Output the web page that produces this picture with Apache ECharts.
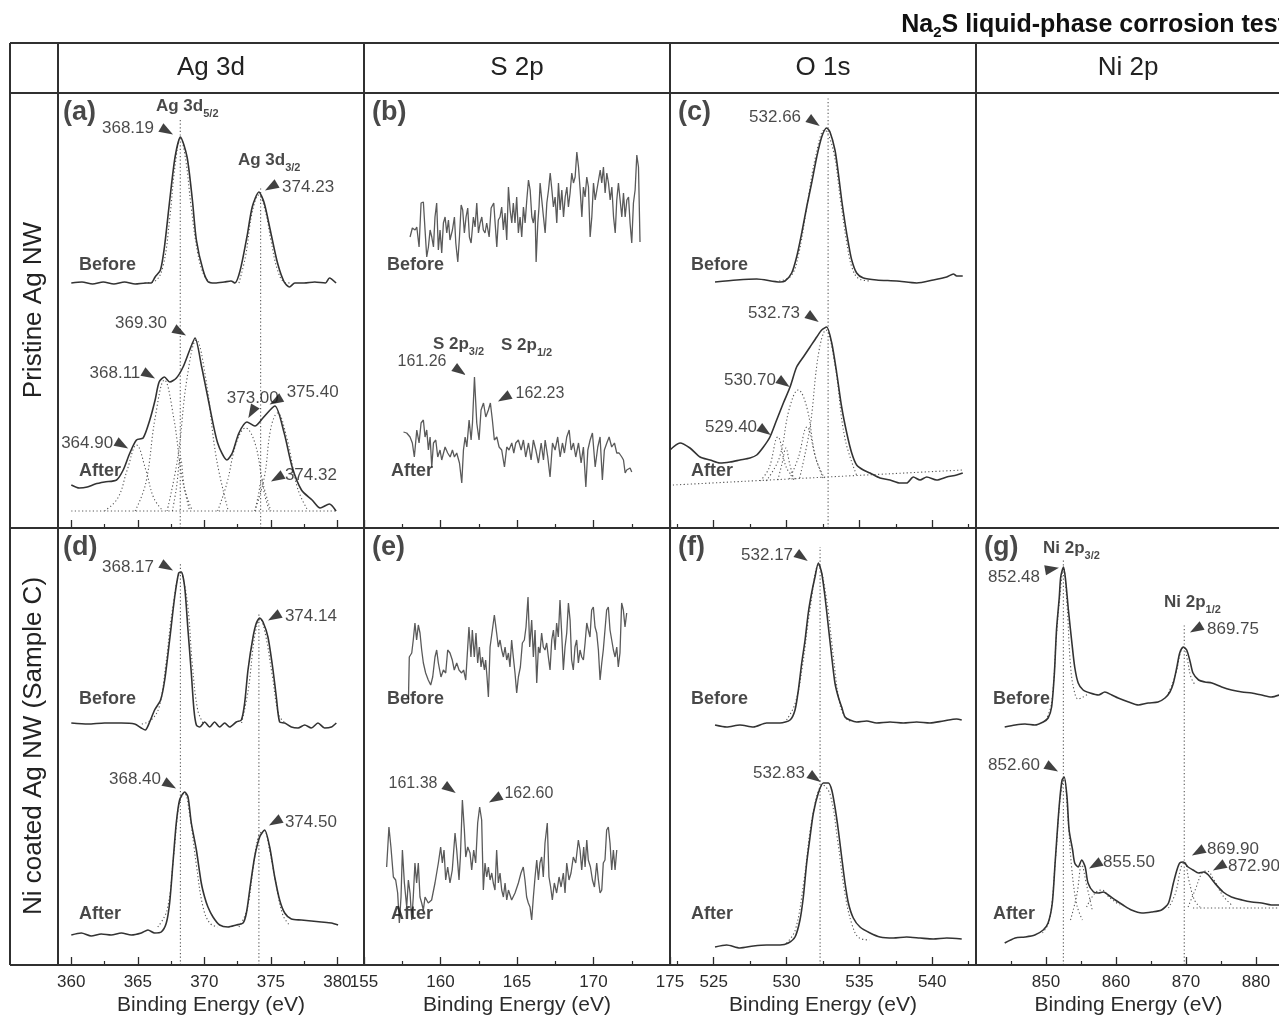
<!DOCTYPE html>
<html><head><meta charset="utf-8">
<script src="https://cdn.jsdelivr.net/npm/echarts@6/dist/echarts.min.js"></script>
<style>html,body{margin:0;padding:0;background:#fff}#c{width:1279px;height:1017px}</style>
</head><body><div id="c"></div><script>
const FONT = '"Liberation Sans", Arial, Helvetica, sans-serif';
const INK = '#2b2b2b';

// ---- tick labels ----
const agTicks = [360, 365, 370, 375, 380], agMinor = [362.5, 367.5, 372.5, 377.5];
const sTicks = [155, 160, 165, 170, 175], sMinor = [157.5, 162.5, 167.5, 172.5];
const oTicks = [525, 530, 535, 540], oMinor = [522.5, 527.5, 532.5, 537.5, 542.5];
const niTicks = [850, 860, 870, 880], niMinor = [845, 855, 865, 875];

const colHeaders = ['Ag 3d', 'S 2p', 'O 1s', 'Ni 2p'];
const rowHeaders = ['Pristine Ag NW', 'Ni coated Ag NW (Sample C)'];
const axisTitle = 'Binding Energy (eV)';

// ---- (a) Ag 3d, pristine ----
const agBeforeA = [[360.0,245],[360.8,246],[361.6,244],[362.4,246],[363.2,244],[364.0,246],[364.8,244],[365.6,245],[366.0,245],[366.3,251],[366.7,258],[367.0,281],[367.4,328],[367.8,371],[368.2,391],[368.7,371],[369.1,328],[369.4,288],[369.9,258],[370.3,246],[370.8,245],[371.5,246],[372.0,247],[372.3,245],[372.7,258],[373.2,291],[373.6,321],[374.1,336],[374.5,325],[375.0,295],[375.5,265],[376.0,246],[376.4,241],[376.8,245],[377.5,245],[378.3,246],[379.1,245],[379.4,250],[379.9,245]];
const agAfterA = [[360.0,43],[360.6,40],[361.2,41],[361.8,44],[362.5,46],[363.4,48],[363.9,58],[364.4,75],[364.9,88],[365.4,90],[365.9,108],[366.3,128],[366.6,146],[367.0,151],[367.4,146],[367.9,150],[368.4,161],[368.9,178],[369.3,190],[369.8,161],[370.3,128],[371.0,85],[371.7,68],[372.1,75],[372.6,95],[373.2,106],[373.8,102],[374.4,110],[375.3,122],[376.0,95],[376.6,61],[377.3,38],[378.1,28],[378.7,20],[379.4,24],[379.9,17]];
const agFitA1 = [[365.5,245],[366.3,247],[366.9,262],[367.4,310],[367.8,362],[368.2,390],[368.6,368],[369.0,322],[369.5,275],[370.0,252],[370.5,245]];
const agFitA2 = [[372.6,245],[373.1,272],[373.6,316],[374.1,333],[374.6,316],[375.0,288],[375.5,258],[376.0,246],[376.5,245]];
const agBaseA = [[360,17],[380,17]];
const agCompA1 = [[362.5,17],[363.5,30],[364.2,58],[364.9,83],[365.6,58],[366.2,30],[366.9,17]];
const agCompA2 = [[364.8,17],[365.6,45],[366.3,110],[367.0,148],[367.7,110],[368.4,45],[369.1,17]];
const agCompA3 = [[367.6,17],[367.9,40],[368.2,70],[368.5,40],[368.9,17]];
const agCompA4 = [[367.2,17],[368.0,70],[368.7,150],[369.4,188],[370.1,150],[370.9,70],[371.8,17]];
const agCompA5 = [[371.0,17],[371.7,45],[372.4,85],[373.1,100],[373.8,85],[374.4,45],[375.0,17]];
const agCompA6 = [[373.8,17],[374.05,32],[374.3,48],[374.55,32],[374.9,17]];
const agCompA7 = [[373.8,17],[374.5,50],[375.0,100],[375.5,115],[376.2,90],[377.0,40],[377.8,17]];

// ---- (b) S 2p, pristine ----
const sBeforeB = [[158.01,291],[158.16,300],[158.34,298],[158.45,301],[158.60,281],[158.73,325],[158.88,326],[158.99,298],[159.10,271],[159.21,281],[159.32,298],[159.43,291],[159.54,281],[159.64,311],[159.75,325],[159.86,278],[159.97,298],[160.08,275],[160.19,305],[160.30,311],[160.41,295],[160.52,308],[160.62,288],[160.78,298],[160.91,311],[161.00,285],[161.13,266],[161.24,291],[161.35,323],[161.45,318],[161.56,295],[161.67,311],[161.78,320],[161.89,291],[162.00,285],[162.15,311],[162.26,301],[162.37,325],[162.48,295],[162.59,305],[162.70,311],[162.80,298],[162.91,295],[163.02,305],[163.18,291],[163.31,320],[163.39,318],[163.48,325],[163.57,305],[163.68,281],[163.78,308],[163.89,311],[164.00,321],[164.11,298],[164.22,315],[164.33,288],[164.44,341],[164.55,318],[164.66,305],[164.76,325],[164.87,305],[164.98,331],[165.09,295],[165.20,311],[165.31,291],[165.42,321],[165.53,305],[165.64,328],[165.75,348],[165.86,338],[165.97,311],[166.07,305],[166.18,318],[166.25,266],[166.36,305],[166.44,321],[166.51,345],[166.62,328],[166.73,311],[166.84,295],[166.95,325],[167.06,338],[167.17,355],[167.28,338],[167.38,321],[167.49,331],[167.60,305],[167.71,345],[167.82,318],[167.93,338],[168.04,311],[168.15,331],[168.26,341],[168.36,321],[168.47,335],[168.58,355],[168.69,345],[168.80,351],[168.91,376],[169.02,361],[169.13,338],[169.24,311],[169.34,341],[169.45,331],[169.56,351],[169.67,341],[169.78,291],[169.89,311],[170.00,345],[170.11,328],[170.22,338],[170.33,348],[170.44,358],[170.54,345],[170.65,361],[170.76,335],[170.87,355],[170.98,345],[171.09,328],[171.20,341],[171.31,311],[171.42,295],[171.52,328],[171.63,345],[171.74,328],[171.85,311],[171.96,335],[172.07,311],[172.18,328],[172.29,331],[172.39,305],[172.50,285],[172.61,325],[172.72,338],[172.83,373],[172.94,361],[173.04,286]];
const sAfterB = [[157.58,96],[157.79,95],[158.01,91],[158.16,85],[158.29,71],[158.45,98],[158.60,85],[158.73,105],[158.88,108],[158.99,91],[159.10,98],[159.21,78],[159.32,91],[159.43,61],[159.54,85],[159.69,88],[159.82,71],[159.97,78],[160.08,68],[160.30,81],[160.47,75],[160.63,71],[160.78,78],[160.91,71],[161.06,75],[161.24,65],[161.39,45],[161.50,78],[161.61,91],[161.72,81],[161.87,108],[162.00,88],[162.09,105],[162.22,151],[162.37,105],[162.52,88],[162.65,118],[162.81,125],[162.96,111],[163.13,118],[163.26,125],[163.39,108],[163.52,88],[163.68,91],[163.83,81],[164.00,78],[164.18,61],[164.33,81],[164.48,78],[164.66,85],[164.79,75],[164.92,85],[165.09,88],[165.27,78],[165.42,88],[165.57,71],[165.75,85],[165.92,68],[166.07,88],[166.23,78],[166.40,65],[166.58,85],[166.73,68],[166.84,88],[167.01,71],[167.16,51],[167.32,85],[167.49,78],[167.66,91],[167.82,71],[167.97,85],[168.10,75],[168.25,91],[168.41,98],[168.54,78],[168.69,85],[168.84,71],[169.02,85],[169.19,65],[169.34,81],[169.50,41],[169.63,78],[169.78,88],[169.93,95],[170.11,61],[170.28,81],[170.43,91],[170.58,48],[170.71,78],[170.87,85],[171.02,91],[171.19,81],[171.37,85],[171.52,75],[171.67,75],[171.85,71],[171.96,68],[172.07,55],[172.17,58],[172.28,56],[172.39,60],[172.50,56]];

// ---- (c) O 1s, pristine ----
const oBeforeC = [[525.09,246],[526.58,248],[527.95,249],[529.55,246],[529.89,247],[530.35,255],[530.69,271],[531.04,295],[531.38,321],[531.72,345],[532.07,371],[532.41,391],[532.75,400],[532.98,396],[533.32,378],[533.55,355],[533.78,328],[534.01,305],[534.24,285],[534.47,268],[534.81,255],[535.27,250],[536.18,248],[537.56,247],[538.93,245],[540.07,248],[540.99,251],[541.45,254],[541.67,252],[542.09,252]];
const oAfterC = [[522.0,78],[522.69,85],[523.37,80],[524.06,71],[524.75,68],[525.43,65],[526.12,66],[526.80,68],[527.49,70],[527.95,73],[528.41,81],[528.86,91],[529.32,108],[529.78,125],[530.24,141],[530.69,161],[531.15,171],[531.61,181],[532.07,191],[532.41,198],[532.75,201],[533.10,185],[533.44,155],[533.78,121],[534.13,95],[534.47,75],[534.81,63],[535.27,58],[535.73,55],[536.41,50],[537.10,48],[537.79,45],[538.24,45],[538.70,51],[539.16,48],[539.62,51],[540.30,48],[540.99,51],[541.67,53],[542.09,55]];
const oFitC = [[529.5,247],[530.3,252],[530.8,272],[531.4,322],[532.0,372],[532.6,398],[533.2,378],[533.7,328],[534.1,288],[534.5,260],[535.0,249],[535.8,247]];
const oBaseC = [[522.2,43],[542.1,58]];
const oCompC1 = [[528.2,47],[528.8,60],[529.4,91],[530.0,60],[530.7,48]];
const oCompC2 = [[529.4,48],[529.7,65],[529.95,80],[530.2,65],[530.5,48]];
const oCompC3 = [[528.6,47],[529.5,70],[530.2,120],[530.8,138],[531.4,120],[532.0,70],[532.6,50]];
const oCompC4 = [[530.2,49],[530.8,70],[531.4,101],[532.0,70],[532.5,50]];
const oCompC5 = [[530.9,50],[531.6,100],[532.2,175],[532.7,198],[533.3,165],[534.0,90],[534.8,53]];

// ---- (d) Ag 3d, Ni coated ----
const agBeforeD = [[360.00,242],[361.25,241],[362.50,242],[363.76,242],[364.76,241],[365.26,237],[365.56,235],[365.89,243],[366.26,255],[366.71,265],[367.02,285],[367.39,325],[367.77,368],[368.07,392],[368.27,393],[368.52,378],[368.77,335],[369.02,292],[369.22,255],[369.40,240],[369.65,238],[370.02,243],[370.40,238],[370.77,243],[371.15,238],[371.53,242],[371.90,238],[372.40,243],[372.78,245],[373.03,262],[373.28,295],[373.66,328],[373.91,342],[374.16,347],[374.41,343],[374.78,328],[375.16,295],[375.41,268],[375.66,243],[376.04,242],[376.54,238],[377.04,237],[377.54,240],[378.04,237],[378.54,242],[379.04,237],[379.55,238],[379.92,242]];
const agAfterD = [[360.00,30],[360.75,32],[361.50,29],[362.25,31],[363.00,30],[363.76,32],[364.51,30],[365.26,32],[365.76,35],[366.26,32],[366.76,33],[367.14,42],[367.39,62],[367.64,102],[367.89,142],[368.14,165],[368.52,173],[368.77,168],[369.02,142],[369.40,115],[369.77,82],[370.02,68],[370.27,58],[370.65,48],[371.15,40],[371.78,38],[372.40,40],[372.91,42],[373.16,52],[373.41,75],[373.78,108],[374.16,128],[374.53,135],[374.91,118],[375.29,88],[375.66,65],[376.04,52],[376.54,46],[377.29,45],[378.04,44],[378.79,43],[379.55,42],[380.05,40]];
const agFitD1 = [[365.3,241],[366.0,245],[366.6,258],[367.1,300],[367.6,355],[368.2,392],[368.7,365],[369.1,300],[369.5,255],[369.9,242]];
const agFitD2 = [[372.8,242],[373.3,275],[373.8,330],[374.2,346],[374.6,330],[375.1,290],[375.6,250],[376.1,242]];
const agFitD3 = [[366.5,38],[367.2,55],[367.7,110],[368.1,160],[368.5,172],[368.9,150],[369.4,100],[369.9,58],[370.4,42],[371.0,38]];
const agFitD4 = [[372.6,38],[373.2,55],[373.7,100],[374.1,130],[374.5,134],[374.9,115],[375.4,80],[375.9,50],[376.4,40]];

// ---- (e) S 2p, Ni coated ----
const sBeforeE = [[157.90,262],[157.96,308],[158.12,312],[158.22,325],[158.33,342],[158.44,325],[158.55,340],[158.66,332],[158.77,315],[158.88,302],[159.03,292],[159.20,285],[159.36,280],[159.49,288],[159.64,308],[159.75,315],[159.86,302],[160.03,288],[160.19,295],[160.34,292],[160.47,315],[160.62,312],[160.77,305],[160.90,295],[161.06,302],[161.21,295],[161.38,292],[161.51,295],[161.65,285],[161.78,318],[161.86,338],[161.99,308],[162.08,335],[162.21,308],[162.32,332],[162.43,302],[162.54,318],[162.65,298],[162.74,308],[162.87,295],[162.95,305],[163.04,288],[163.13,268],[163.24,318],[163.39,335],[163.52,350],[163.67,332],[163.78,318],[163.89,325],[164.00,315],[164.11,308],[164.22,318],[164.33,305],[164.44,312],[164.54,298],[164.65,325],[164.76,308],[164.87,292],[164.98,272],[165.09,288],[165.22,298],[165.35,322],[165.48,325],[165.59,338],[165.72,368],[165.83,318],[165.96,345],[166.07,308],[166.18,335],[166.29,282],[166.40,318],[166.50,312],[166.61,332],[166.72,318],[166.83,315],[166.94,322],[167.05,308],[167.16,295],[167.27,325],[167.38,335],[167.49,315],[167.59,342],[167.70,328],[167.81,365],[167.92,332],[168.03,295],[168.14,318],[168.25,332],[168.36,362],[168.47,345],[168.57,305],[168.68,295],[168.79,318],[168.90,325],[169.01,302],[169.12,315],[169.23,308],[169.34,305],[169.45,322],[169.56,342],[169.66,335],[169.77,328],[169.88,355],[169.99,358],[170.10,338],[170.21,332],[170.32,315],[170.43,285],[170.54,302],[170.64,315],[170.75,335],[170.86,355],[170.97,358],[171.08,335],[171.19,325],[171.30,315],[171.41,308],[171.52,318],[171.62,298],[171.73,312],[171.84,362],[171.95,355],[172.06,338],[172.17,352]];
const sAfterE = [[156.48,98],[156.63,138],[156.76,118],[156.92,88],[157.07,85],[157.20,72],[157.31,42],[157.42,68],[157.51,115],[157.64,82],[157.79,58],[157.90,85],[158.01,72],[158.12,45],[158.22,68],[158.33,102],[158.44,82],[158.55,102],[158.66,68],[158.77,62],[158.88,55],[158.99,68],[159.20,62],[159.42,65],[159.64,82],[159.86,102],[160.01,118],[160.12,102],[160.23,115],[160.34,85],[160.47,98],[160.62,82],[160.77,95],[160.95,132],[161.06,115],[161.21,85],[161.30,108],[161.43,165],[161.56,135],[161.65,108],[161.78,118],[161.93,112],[162.04,95],[162.17,115],[162.30,102],[162.43,142],[162.56,158],[162.69,145],[162.80,75],[162.91,102],[163.02,88],[163.13,98],[163.24,85],[163.35,92],[163.45,82],[163.56,75],[163.67,115],[163.78,82],[163.89,92],[164.00,75],[164.11,68],[164.22,82],[164.33,65],[164.44,75],[164.65,65],[164.87,72],[165.09,82],[165.26,92],[165.41,98],[165.52,85],[165.63,68],[165.74,62],[165.85,58],[165.96,45],[166.07,68],[166.18,88],[166.29,105],[166.40,85],[166.50,102],[166.61,108],[166.72,88],[166.83,122],[166.98,142],[167.09,88],[167.20,78],[167.31,65],[167.44,82],[167.59,72],[167.75,88],[167.88,78],[168.03,92],[168.14,72],[168.25,102],[168.40,85],[168.53,92],[168.68,108],[168.84,102],[169.01,125],[169.12,115],[169.23,95],[169.36,118],[169.45,98],[169.56,125],[169.66,105],[169.80,98],[169.93,85],[170.06,78],[170.21,102],[170.32,85],[170.43,72],[170.54,75],[170.64,102],[170.75,105],[170.86,135],[170.97,138],[171.08,122],[171.19,95],[171.30,115],[171.41,95],[171.52,115]];

// ---- (f) O 1s, Ni coated ----
const oBeforeF = [[525.09,240],[525.89,238],[526.80,240],[527.72,238],[528.63,242],[529.55,242],[530.24,245],[530.58,255],[530.81,275],[531.04,302],[531.27,325],[531.49,352],[531.72,372],[531.95,388],[532.18,402],[532.41,392],[532.64,368],[532.87,338],[533.10,308],[533.32,282],[533.55,268],[533.78,258],[534.01,248],[534.35,245],[534.81,243],[535.50,244],[536.18,242],[537.10,243],[538.01,242],[538.93,243],[539.84,242],[540.76,244],[541.67,246],[542.02,245]];
const oAfterF = [[525.09,18],[525.89,20],[526.80,17],[527.72,19],[528.63,20],[529.55,20],[530.12,22],[530.58,28],[530.92,45],[531.15,68],[531.38,102],[531.61,128],[531.84,152],[532.18,172],[532.52,182],[532.87,182],[533.10,175],[533.32,158],[533.55,135],[533.78,108],[534.01,82],[534.24,62],[534.58,47],[535.04,38],[535.73,32],[536.41,28],[537.33,27],[538.24,28],[539.16,27],[540.07,26],[540.99,27],[542.02,26]];
const oFitF1 = [[530.0,245],[530.6,262],[531.1,300],[531.6,355],[532.2,400],[532.7,370],[533.2,310],[533.6,265],[534.0,248],[534.5,243]];
const oFitF2 = [[530.0,22],[530.6,35],[531.2,85],[531.8,150],[532.5,180],[533.0,170],[533.5,125],[534.0,72],[534.5,40],[535.0,27],[535.7,25]];

// ---- (g) Ni 2p, Ni coated ----
const niBeforeG = [[844.1,238],[845.6,240],[847.0,241],[848.4,240],[849.6,243],[850.3,247],[850.8,258],[851.2,292],[851.5,335],[851.9,368],[852.1,388],[852.5,398],[852.8,385],[853.2,355],[853.7,322],[854.1,298],[854.6,282],[855.3,275],[856.3,272],[857.5,270],[858.4,273],[859.4,270],[860.3,267],[861.8,263],[863.2,260],[864.6,262],[866.0,263],[867.0,267],[867.7,273],[868.2,282],[868.7,298],[869.1,312],[869.6,318],[870.1,315],[870.6,303],[871.0,292],[871.8,285],[872.7,283],[873.7,282],[875.1,278],[876.5,275],[878.0,273],[879.4,272],[880.8,270],[882.2,268],[883.3,270]];
const niAfterG = [[844.1,22],[845.6,27],[847.0,28],[848.4,30],[849.6,35],[850.3,42],[850.9,62],[851.3,102],[851.7,142],[852.0,168],[852.3,185],[852.6,188],[853.0,168],[853.3,135],[853.8,115],[854.1,102],[854.6,98],[855.1,105],[855.6,98],[856.0,82],[856.8,73],[857.5,72],[858.2,73],[858.9,70],[859.9,65],[861.0,60],[862.2,55],[863.7,52],[865.1,53],[866.5,55],[867.5,62],[868.2,82],[868.7,95],[869.1,102],[869.6,103],[870.3,98],[871.0,95],[871.8,92],[872.5,93],[873.2,90],[874.1,82],[875.3,73],[876.5,68],[878.0,65],[879.4,63],[880.8,62],[882.2,60],[883.3,60]];
const niFitG1 = [[850.0,245],[850.8,262],[851.5,330],[852.0,370],[852.5,397],[853.0,360],[853.5,300],[854.0,275],[854.6,266],[855.3,268],[856.0,271]];
const niFitG2 = [[867.5,272],[868.5,290],[869.3,315],[869.7,318],[870.2,305],[870.7,288],[871.3,280]];
const niCompG1 = [[849.5,32],[850.5,45],[851.4,110],[852.0,165],[852.6,186],[853.1,150],[853.7,95],[854.4,60],[855.2,45]];
const niCompG2 = [[853.5,45],[854.4,70],[855.1,100],[855.8,80],[856.6,55]];
const niCompG3 = [[855.8,58],[857.0,72],[858.0,75],[859.0,68],[860.5,60]];
const niCompG4 = [[867.5,57],[868.5,72],[869.3,98],[869.8,103],[870.4,85],[871.2,65],[872.0,58]];
const niCompG5 = [[870.3,58],[871.3,75],[872.3,92],[873.0,94],[874.0,85],[875.2,70],[876.5,60]];
const niBaseG = [[871.0,57],[883.4,57]];

// ---- annotations (data coords): [eV, intensity, text, kind] ----
const notesA = [[359.3,415,'(a)','p'],[366.29,422,'Ag 3d|5/2','s'],[364.26,400,'368.19','n'],[372.45,368,'Ag 3d|3/2','s'],[377.80,341,'374.23','n'],[360.5,263,'Before','b'],[365.24,205,'369.30','n'],[363.28,155,'368.11','n'],[361.19,85,'364.90','n'],[373.64,130,'373.00','n'],[378.14,136,'375.40','n'],[378.01,53,'374.32','n'],[360.5,57,'After','b']];
const arrowsA = [[367.19,397,-30],[375.01,341,210],[368.17,196,-30],[365.84,153,-30],[363.82,83,-30],[373.57,116,240],[375.36,127,210],[375.46,50,210]];
const notesB = [[155.46,415,'(b)','p'],[156.44,263,'Before','b'],[156.70,57,'After','b'],[159.44,184,'S 2p|3/2','s'],[163.89,183,'S 2p|1/2','s'],[158.79,166,'161.26','m'],[166.50,134,'162.23','m']];
const arrowsB = [[161.27,157,-35],[164.15,130,210]];
const notesC = [[522.48,415,'(c)','p'],[529.21,411,'532.66','n'],[523.37,263,'Before','b'],[529.14,215,'532.73','n'],[527.49,148,'530.70','n'],[526.19,101,'529.40','n'],[523.37,57,'After','b']];
const arrowsC = [[531.88,406,-35],[531.81,210,-35],[529.82,145,-35],[528.52,97,-35]];
const notesD = [[359.3,417,'(d)','p'],[364.26,398,'368.17','n'],[378.01,349,'374.14','n'],[360.5,266,'Before','b'],[364.79,186,'368.40','n'],[378.01,143,'374.50','n'],[360.5,51,'After','b']];
const arrowsD = [[367.19,398,-30],[375.24,348,210],[367.42,180,-30],[375.31,143,210]];
const notesE = [[155.46,417,'(e)','p'],[156.44,266,'Before','b'],[158.20,181,'161.38','m'],[165.78,171,'162.60','m'],[156.70,51,'After','b']];
const arrowsE = [[160.62,176,-35],[163.56,166,210]];
const notesF = [[522.48,417,'(f)','p'],[528.66,410,'532.17','n'],[523.37,266,'Before','b'],[529.48,192,'532.83','n'],[523.37,51,'After','b']];
const arrowsF = [[531.06,408,-35],[531.95,187,-35]];
const notesG = [[841.0,417,'(g)','p'],[849.43,417,'Ni 2p|3/2','s'],[845.43,388,'852.48','n'],[866.71,363,'Ni 2p|1/2','s'],[876.71,336,'869.75','n'],[842.29,266,'Before','b'],[845.43,200,'852.60','n'],[876.71,116,'869.90','n'],[861.86,103,'855.50','n'],[879.71,99,'872.90','n'],[842.29,51,'After','b']];
const arrowsG = [[850.86,396,10],[871.43,336,210],[850.86,197,-30],[871.71,113,210],[857.0,100,210],[874.71,98,210]];

// ---- layout ----
const COLS = [
  {left:58, width:306, min:359, max:382, major:agTicks, minor:agMinor},
  {left:364, width:306, min:155, max:175, major:sTicks, minor:sMinor},
  {left:670, width:306, min:522, max:543, major:oTicks, minor:oMinor},
  {left:976, width:305, min:840, max:883.57, major:niTicks, minor:niMinor}
];
const ROWS = [{top:93, height:435}, {top:528, height:437}];
const DARK = {color:'#333333', width:1.6};
const GREY = {color:'#5a5a5a', width:1.3};

const panels = [
  {col:0,row:0,curves:[agBeforeA,agAfterA],style:DARK,smooth:0.25,fits:[agFitA1,agFitA2,agBaseA,agCompA1,agCompA2,agCompA3,agCompA4,agCompA5,agCompA6,agCompA7],vlines:[[368.19,410],[374.23,340]],notes:notesA,arrows:arrowsA},
  {col:1,row:0,curves:[sBeforeB,sAfterB],style:GREY,smooth:false,fits:[],vlines:[],notes:notesB,arrows:arrowsB},
  {col:2,row:0,curves:[oBeforeC,oAfterC],style:DARK,smooth:0.25,fits:[oFitC,oBaseC,oCompC1,oCompC2,oCompC3,oCompC4,oCompC5],vlines:[[532.85,430]],notes:notesC,arrows:arrowsC},
  {col:0,row:1,curves:[agBeforeD,agAfterD],style:DARK,smooth:0.25,fits:[agFitD1,agFitD2,agFitD3,agFitD4],vlines:[[368.2,402],[374.1,352]],notes:notesD,arrows:arrowsD},
  {col:1,row:1,curves:[sBeforeE,sAfterE],style:GREY,smooth:false,fits:[],vlines:[],notes:notesE,arrows:arrowsE},
  {col:2,row:1,curves:[oBeforeF,oAfterF],style:DARK,smooth:0.25,fits:[oFitF1,oFitF2],vlines:[[532.3,418]],notes:notesF,arrows:arrowsF},
  {col:3,row:1,curves:[niBeforeG,niAfterG],style:DARK,smooth:0.25,fits:[niFitG1,niFitG2,niCompG1,niCompG2,niCompG3,niCompG4,niCompG5,niBaseG],vlines:[[852.48,405],[869.75,340]],notes:notesG,arrows:arrowsG}
];

const grid = [], xAxis = [], yAxis = [], series = [];
function noteItem(n) {
  const [x, y, text, kind] = n;
  const base = {color:'#1a1a1a', fontFamily:FONT};
  let label;
  if (kind === 'n' || kind === 'm') {
    label = Object.assign({show:true, position:'inside', formatter:text, fontSize: kind==='n'?17:16}, base);
  } else if (kind === 'b') {
    label = Object.assign({show:true, position:'right', distance:0, formatter:text, fontSize:18, fontWeight:'bold'}, base);
  } else if (kind === 'p') {
    label = Object.assign({show:true, position:'right', distance:0, formatter:text, fontSize:27, fontWeight:'bold'}, base);
  } else {
    const [m, s] = text.split('|');
    label = Object.assign({show:true, position:'right', distance:0, formatter:'{m|' + m + '}{s|' + s + '}',
      rich:{m:{fontSize:17, fontWeight:'bold', fontFamily:FONT, color:'#1a1a1a', lineHeight:26, verticalAlign:'middle'},
            s:{fontSize:11, fontWeight:'bold', fontFamily:FONT, color:'#1a1a1a', lineHeight:26, verticalAlign:'bottom'}}}, base);
  }
  return {value:[x, y], label};
}

panels.forEach((p, i) => {
  const c = COLS[p.col], r = ROWS[p.row];
  const bottom = p.row === 1;
  grid.push({left:c.left, top:r.top, width:c.width, height:r.height, containLabel:false, outerBoundsMode:'none'});
  xAxis.push({type:'value', gridIndex:i, min:c.min, max:c.max, position:'bottom', offset:0,
    axisLine:{show:false}, splitLine:{show:false},
    axisTick:{show:true, inside:true, length:8, customValues:c.major, lineStyle:{color:INK, width:1.3}},
    axisLabel:{show:bottom, customValues:c.major, margin:9, fontSize:17, color:INK, fontFamily:FONT},
    name: bottom ? axisTitle : '', nameLocation:'middle', nameGap:30,
    nameTextStyle:{fontSize:21, color:INK, fontFamily:FONT}});
  xAxis.push({type:'value', gridIndex:i, min:c.min, max:c.max, position:'bottom', offset:0,
    axisLine:{show:false}, splitLine:{show:false},
    axisTick:{show:true, inside:true, length:4, customValues:c.minor, lineStyle:{color:INK, width:1.2}},
    axisLabel:{show:false}});
  yAxis.push({type:'value', gridIndex:i, min:0, max:r.height, show:false});
  const xi = 2 * i, yi = i;
  p.fits.forEach(f => series.push({type:'line', xAxisIndex:xi, yAxisIndex:yi, data:f, symbol:'none', silent:true,
    smooth:0.4, lineStyle:{color:'#555', width:1.1, type:[1.2, 2.4]}, z:2}));
  p.vlines.forEach(v => series.push({type:'line', xAxisIndex:xi, yAxisIndex:yi, data:[[v[0], 0], [v[0], v[1]]],
    symbol:'none', silent:true, lineStyle:{color:'#555', width:1.1, type:[1.2, 2.4]}, z:2}));
  p.curves.forEach(cv => series.push({type:'line', xAxisIndex:xi, yAxisIndex:yi, data:cv, symbol:'none', silent:true,
    smooth:p.smooth, lineStyle:{color:p.style.color, width:p.style.width}, z:3}));
  series.push({type:'scatter', xAxisIndex:xi, yAxisIndex:yi, symbolSize:2, silent:true, z:6,
    itemStyle:{color:'rgba(0,0,0,0)'}, data:p.notes.map(noteItem)});
  series.push({type:'scatter', xAxisIndex:xi, yAxisIndex:yi, silent:true, z:6,
    symbol:'path://M0,0L16,6L0,12Z', symbolSize:[14, 10], itemStyle:{color:'#111'},
    data:p.arrows.map(a => ({value:[a[0], a[1]], symbolRotate:a[2]}))});
});

// ---- table frame and headers ----
const graphic = [];
function L(x1, y1, x2, y2, w) {
  graphic.push({type:'line', silent:true, z:100, shape:{x1, y1, x2, y2}, style:{stroke:'#303030', lineWidth:w || 2}});
}
[43, 93, 528, 965].forEach(y => L(10, y, 1279, y, 2));
[10, 58, 364, 670, 976].forEach(x => L(x, 43, x, 965, 2));
const headerX = [211, 517, 823, 1128];
colHeaders.forEach((t, k) => graphic.push({type:'text', silent:true, z:100, x:headerX[k], y:68,
  style:{text:t, fill:'#222', fontSize:26, fontFamily:FONT, align:'center', verticalAlign:'middle'}}));
const rowY = [310, 746];
rowHeaders.forEach((t, k) => graphic.push({type:'text', silent:true, z:100, x:34, y:rowY[k], rotation:Math.PI/2,
  style:{text:t, fill:'#222', fontSize:26, fontFamily:FONT, align:'center', verticalAlign:'middle'}}));
graphic.push({type:'text', silent:true, z:100, x:1286, y:25,
  style:{text:'{a|Na}{s|2}{a|S liquid-phase corrosion test}', align:'right', verticalAlign:'middle',
    rich:{a:{fontSize:25, fontWeight:'bold', fontFamily:FONT, fill:'#111', color:'#111', lineHeight:30, verticalAlign:'middle'},
          s:{fontSize:15, fontWeight:'bold', fontFamily:FONT, fill:'#111', color:'#111', lineHeight:30, verticalAlign:'bottom'}}}});

const chart = echarts.init(document.getElementById('c'), null, {renderer:'canvas'});
chart.setOption({backgroundColor:'#fff', animation:false, grid, xAxis, yAxis, series, graphic});
</script></body></html>
